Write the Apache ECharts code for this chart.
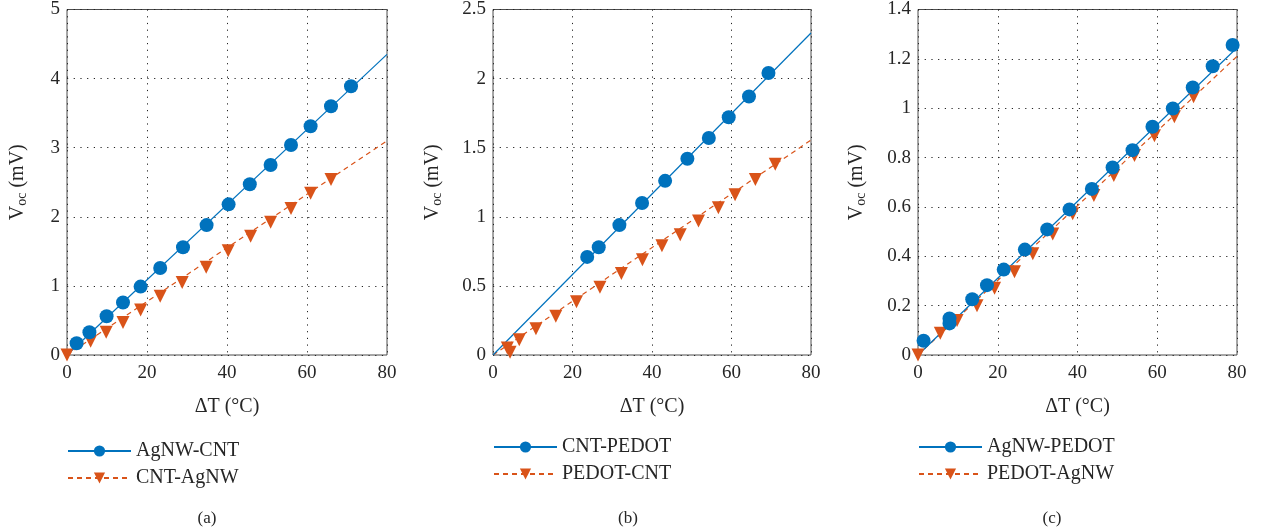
<!DOCTYPE html>
<html>
<head>
<meta charset="utf-8">
<script src="https://cdn.jsdelivr.net/npm/echarts@6/dist/echarts.min.js"></script>
<style>
html,body{margin:0;padding:0;background:#fff;}
#chart{width:1262px;height:532px;}
</style>
</head>
<body>
<div id="chart"></div>
<script>
// ---------- Data ----------
// Panel (a)
const aBlueName = 'AgNW-CNT';
const aBlueX = [2.4, 5.6, 9.9, 14.0, 18.4, 23.3, 29.0, 34.9, 40.4, 45.7, 50.9, 56.0, 60.9, 66.0, 71.0];
const aBlueY = [0.17, 0.33, 0.56, 0.76, 0.99, 1.26, 1.56, 1.88, 2.18, 2.47, 2.75, 3.04, 3.31, 3.60, 3.89];
const aBlueFit = [[0, 0], [80, 4.35]];
const aOrangeName = 'CNT-AgNW';
const aOrangeX = [0, 5.9, 9.8, 14.0, 18.4, 23.3, 28.8, 34.8, 40.3, 45.9, 50.9, 56.0, 60.9, 66.0];
const aOrangeY = [0, 0.20, 0.33, 0.47, 0.65, 0.85, 1.05, 1.27, 1.51, 1.72, 1.92, 2.12, 2.34, 2.54];
const aOrangeFit = [[0, 0], [80, 3.10]];
const aYTicks = {min: 0, max: 5, interval: 1};

// Panel (b)
const bBlueName = 'CNT-PEDOT';
const bBlueX = [23.7, 26.6, 31.8, 37.5, 43.3, 48.9, 54.3, 59.3, 64.4, 69.3];
const bBlueY = [0.71, 0.78, 0.94, 1.10, 1.26, 1.42, 1.57, 1.72, 1.87, 2.04];
const bBlueFit = [[0, 0], [80, 2.33]];
const bOrangeName = 'PEDOT-CNT';
const bOrangeX = [3.6, 4.3, 6.6, 10.8, 15.8, 21.0, 26.9, 32.3, 37.6, 42.5, 47.1, 51.7, 56.7, 60.9, 66.0, 71.0];
const bOrangeY = [0.05, 0.02, 0.11, 0.19, 0.28, 0.385, 0.49, 0.59, 0.69, 0.79, 0.87, 0.97, 1.065, 1.16, 1.27, 1.38];
const bOrangeFit = [[0, 0], [80, 1.555]];
const bYTicks = {min: 0, max: 2.5, interval: 0.5};

// Panel (c)
const cBlueName = 'AgNW-PEDOT';
const cBlueX = [1.4, 7.9, 7.9, 13.6, 17.3, 21.5, 26.8, 32.4, 38.0, 43.6, 48.8, 53.8, 58.8, 63.9, 68.9, 73.9, 78.9];
const cBlueY = [0.058, 0.148, 0.128, 0.226, 0.283, 0.346, 0.427, 0.509, 0.59, 0.673, 0.76, 0.83, 0.925, 0.999, 1.084, 1.17, 1.256];
const cBlueFit = [[0, 0], [80, 1.245]];
const cOrangeName = 'PEDOT-AgNW';
const cOrangeX = [0, 5.6, 9.8, 14.8, 19.2, 24.2, 28.8, 33.8, 38.8, 44.1, 49.1, 54.3, 59.3, 64.3, 69.1];
const cOrangeY = [0, 0.088, 0.14, 0.20, 0.27, 0.337, 0.41, 0.49, 0.572, 0.646, 0.727, 0.808, 0.888, 0.965, 1.046];
const cOrangeFit = [[0, 0], [80, 1.21]];
const cYTicks = {min: 0, max: 1.4, interval: 0.2};

const xTicks = {min: 0, max: 80, interval: 20};
const xLabel = 'ΔT (°C)';
const panelLabels = ['(a)', '(b)', '(c)'];

// ---------- Styles ----------
const BLUE = '#0072BD';
const ORANGE = '#D95319';
const FONT = '"Liberation Serif", "DejaVu Serif", serif';
const TXT = '#262626';

const zip = (xs, ys) => xs.map((x, i) => [x, ys[i]]);

const panels = [
  {left: 67, width: 320, blue: [aBlueName, aBlueX, aBlueY, aBlueFit], orange: [aOrangeName, aOrangeX, aOrangeY, aOrangeFit], yt: aYTicks, nameGap: 37, legendLeft: 67, legendTop: 441, titleX: 202},
  {left: 493, width: 318, blue: [bBlueName, bBlueX, bBlueY, bBlueFit], orange: [bOrangeName, bOrangeX, bOrangeY, bOrangeFit], yt: bYTicks, nameGap: 48, legendLeft: 493, legendTop: 437, titleX: 623},
  {left: 918, width: 319, blue: [cBlueName, cBlueX, cBlueY, cBlueFit], orange: [cOrangeName, cOrangeX, cOrangeY, cOrangeFit], yt: cYTicks, nameGap: 49, legendLeft: 918, legendTop: 437, titleX: 1047}
];

const grid = [], xAxis = [], yAxis = [], series = [], legend = [], title = [];

const gridLine = {show: true, lineStyle: {color: '#222', width: 1, type: [1.2, 5.5]}};

panels.forEach((p, i) => {
  grid.push({left: p.left, width: p.width, top: 9, height: 346, show: true, borderColor: '#4d4d4d', borderWidth: 1, backgroundColor: 'transparent'});
  xAxis.push({
    type: 'value', gridIndex: i, min: xTicks.min, max: xTicks.max, interval: xTicks.interval,
    name: xLabel, nameLocation: 'middle', nameGap: 42,
    nameTextStyle: {fontFamily: FONT, fontSize: 20, color: TXT},
    axisLine: {show: false}, axisTick: {show: false},
    axisLabel: {fontFamily: FONT, fontSize: 19, color: TXT, margin: 9},
    splitLine: gridLine
  });
  yAxis.push({
    type: 'value', gridIndex: i, min: p.yt.min, max: p.yt.max, interval: p.yt.interval,
    name: '{a|V}{b|oc}{a| (mV)}', nameLocation: 'middle', nameGap: p.nameGap, nameRotate: 90,
    nameTextStyle: {
      fontFamily: FONT, color: TXT,
      rich: {
        a: {fontFamily: FONT, fontSize: 20, color: TXT, lineHeight: 24},
        b: {fontFamily: FONT, fontSize: 14, color: TXT, lineHeight: 24, padding: [9, 0, 0, 0]}
      }
    },
    axisLine: {show: false}, axisTick: {show: false},
    axisLabel: {fontFamily: FONT, fontSize: 19, color: TXT, margin: 7},
    splitLine: gridLine
  });

  const [oName, oX, oY, oFit] = p.orange;
  const [bName, bX, bY, bFit] = p.blue;

  // fit lines (also provide legend icons)
  series.push({
    name: oName, type: 'line', xAxisIndex: i, yAxisIndex: i, data: oFit,
    showSymbol: false, symbol: 'triangle', symbolRotate: 180, symbolSize: 13,
    lineStyle: {color: ORANGE, width: 1.2, type: [5, 4]}, itemStyle: {color: ORANGE},
    z: 2, silent: true, animation: false
  });
  series.push({
    name: bName, type: 'line', xAxisIndex: i, yAxisIndex: i, data: bFit,
    showSymbol: false, symbol: 'circle', symbolSize: 14,
    lineStyle: {color: BLUE, width: 1.2}, itemStyle: {color: BLUE},
    z: 2, silent: true, animation: false
  });
  // measured points
  series.push({
    name: oName + ' data', type: 'scatter', xAxisIndex: i, yAxisIndex: i, data: zip(oX, oY),
    symbol: 'triangle', symbolRotate: 180, symbolSize: 13,
    itemStyle: {color: ORANGE, opacity: 1}, z: 3, animation: false
  });
  series.push({
    name: bName + ' data', type: 'scatter', xAxisIndex: i, yAxisIndex: i, data: zip(bX, bY),
    symbol: 'circle', symbolSize: 14,
    itemStyle: {color: BLUE, opacity: 1}, z: 4, animation: false
  });

  legend.push({
    orient: 'vertical', left: p.legendLeft, top: p.legendTop, padding: 0,
    itemWidth: 63, itemHeight: 14, itemGap: 7,
    data: [bName, oName], selectedMode: false,
    textStyle: {fontFamily: FONT, fontSize: 20, color: TXT}
  });

  title.push({
    text: panelLabels[i], left: p.titleX, top: 505, textAlign: 'center',
    textStyle: {fontFamily: FONT, fontSize: 17, fontWeight: 'normal', color: TXT}
  });
});

const chart = echarts.init(document.getElementById('chart'), null, {renderer: 'canvas'});
chart.setOption({
  animation: false,
  backgroundColor: '#fff',
  title, grid, xAxis, yAxis, series, legend
});
</script>
</body>
</html>
